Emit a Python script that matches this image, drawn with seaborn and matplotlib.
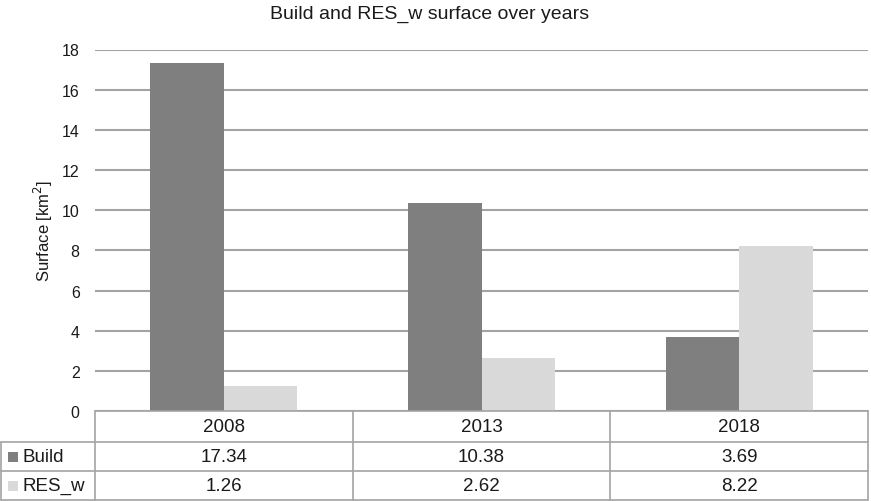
import matplotlib
matplotlib.use("Agg")
import matplotlib.pyplot as plt
import matplotlib.transforms as mtransforms
from matplotlib.lines import Line2D
from matplotlib.patches import Rectangle
import seaborn as sns
import pandas as pd

years = ["2008", "2013", "2018"]
series = ["Build", "RES_w"]
build = [17.34, 10.38, 3.69]
res_w = [1.26, 2.62, 8.22]
yticks = [0, 2, 4, 6, 8, 10, 12, 14, 16, 18]

colors = {"Build": "#7f7f7f", "RES_w": "#d9d9d9"}
grid_c = "#a3a3a3"
text_c = "#1a1a1a"

df = pd.DataFrame({
    "year": years * 2,
    "series": ["Build"] * 3 + ["RES_w"] * 3,
    "value": build + res_w,
})

sns.set_theme(style="white")
plt.rcParams["font.family"] = ["Liberation Sans", "DejaVu Sans"]

W, H = 871, 502
top_px, bot_px = 50.5, 412
fig = plt.figure(figsize=(W / 100, H / 100), dpi=100)
ax = fig.add_axes([95 / W, 1 - bot_px / H, (868 - 95) / W, (bot_px - top_px) / H])

sns.barplot(data=df, x="year", y="value", hue="series", order=years,
            hue_order=series, palette=colors, width=0.57, gap=0,
            saturation=1, linewidth=0, ax=ax, legend=False)

ax.set_ylim(0, 18)
ax.set_xlim(-0.5, 2.5)
ax.set_yticks(yticks)
ax.set_yticklabels([str(t) for t in yticks], fontsize=11.5, color=text_c)
ax.set_xticks([])
ax.set_xlabel("")
ax.set_ylabel("")
ax.tick_params(axis="y", length=0, pad=11)
for sp in ax.spines.values():
    sp.set_visible(False)
ax.yaxis.grid(True, color=grid_c, linewidth=1.5)
ax.set_axisbelow(True)

fig.text(43 / W, 1 - (top_px + bot_px) / 2 / H, "Surface [km$^2$]",
         rotation=90, ha="center", va="center", fontsize=12, color=text_c)
fig.text(430 / W, 1 - 14 / H, "Build and RES_w surface over years",
         ha="center", va="center", fontsize=14, color=text_c)

# data table under the plot: x follows category positions, y in figure units
tr = mtransforms.blended_transform_factory(ax.transData, fig.transFigure)
def fy(p):
    return 1 - p / H

row_y = [bot_px, 443, 472, 501]
lw = 1.2
fig.add_artist(Line2D([-0.5, 2.5], [fy(bot_px)] * 2, transform=tr, color=grid_c, lw=lw))
for yy in row_y[1:]:
    fig.add_artist(Line2D([0.5 / W, 868 / W], [fy(yy)] * 2,
                          transform=fig.transFigure, color=grid_c, lw=lw))
for xb in [-0.5, 0.5, 1.5, 2.5]:
    fig.add_artist(Line2D([xb, xb], [fy(bot_px), fy(501)], transform=tr,
                          color=grid_c, lw=lw))
fig.add_artist(Line2D([0.5 / W] * 2, [fy(443), fy(501)],
                      transform=fig.transFigure, color=grid_c, lw=lw))

for i, yr in enumerate(years):
    fig.text(i, fy((row_y[0] + row_y[1]) / 2), yr, transform=tr, ha="center",
             va="center", fontsize=13.5, color=text_c)

for r, (name, vals) in enumerate(zip(series, [build, res_w])):
    yc = fy((row_y[r + 1] + row_y[r + 2]) / 2)
    fig.add_artist(Rectangle((8 / W, yc - 5 / H), 10 / W, 10 / H,
                             transform=fig.transFigure, color=colors[name], lw=0))
    fig.text(22 / W, yc, name, ha="left", va="center", fontsize=13.5, color=text_c)
    for i, v in enumerate(vals):
        fig.text(i, yc, f"{v:.2f}", transform=tr, ha="center", va="center",
                 fontsize=13.5, color=text_c)

fig.savefig("out.png", dpi=100, facecolor="white")
